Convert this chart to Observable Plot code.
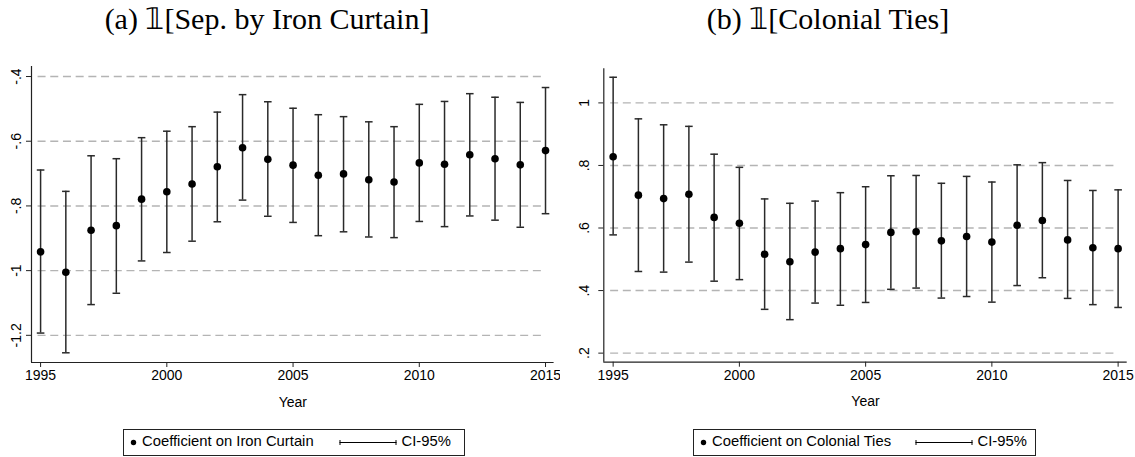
<!DOCTYPE html>
<html><head><meta charset="utf-8">
<script src="https://cdn.jsdelivr.net/npm/d3@7"></script>
<script src="https://cdn.jsdelivr.net/npm/@observablehq/plot@0.6"></script>
<style>
body{margin:0;background:#fff;}
#wrap{position:relative;width:1135px;height:457px;overflow:hidden;background:#fff;}
.title{position:absolute;top:1px;font-family:"Liberation Serif","Times New Roman",serif;font-size:30px;line-height:36px;color:#000;white-space:nowrap;transform:translateX(-50%);}
.panel{position:absolute;top:40px;}
.legend{position:absolute;top:429px;height:25px;border:1px solid #222;font-family:"Liberation Sans",Arial,sans-serif;font-size:14.8px;color:#000;background:#fff;}
.legend span{position:absolute;top:3px;white-space:nowrap;}
.legend svg{position:absolute;top:0;left:0;}
</style>
</head><body>
<div id="wrap">
  <div class="title" style="left:267px">(a) 𝟙[Sep. by Iron Curtain]</div>
  <div class="title" style="left:828px">(b) 𝟙[Colonial Ties]</div>
  <div class="panel" id="left" style="left:0px"></div>
  <div class="panel" id="right" style="left:560px"></div>
  <div class="legend" id="legL" style="left:123px;width:340px"></div>
  <div class="legend" id="legR" style="left:693px;width:341px"></div>
</div>
<script>
const years = [1995,1996,1997,1998,1999,2000,2001,2002,2003,2004,2005,2006,2007,2008,2009,2010,2011,2012,2013,2014,2015];
const xTicks = [1995,2000,2005,2010,2015];

const ironCoef = [-0.942,-1.005,-0.875,-0.861,-0.779,-0.756,-0.732,-0.679,-0.620,-0.656,-0.674,-0.705,-0.701,-0.719,-0.726,-0.667,-0.671,-0.642,-0.654,-0.673,-0.629];
const ironHi   = [-0.689,-0.755,-0.645,-0.654,-0.589,-0.569,-0.555,-0.510,-0.456,-0.478,-0.498,-0.518,-0.524,-0.540,-0.555,-0.486,-0.477,-0.453,-0.464,-0.480,-0.434];
const ironLo   = [-1.193,-1.254,-1.105,-1.070,-0.970,-0.944,-0.909,-0.849,-0.782,-0.832,-0.851,-0.892,-0.880,-0.896,-0.898,-0.848,-0.864,-0.831,-0.844,-0.866,-0.824];
const ironTicks = [-1.2,-1,-0.8,-0.6,-0.4];

const colCoef = [0.828,0.705,0.694,0.708,0.634,0.615,0.516,0.492,0.523,0.534,0.547,0.586,0.588,0.559,0.573,0.555,0.609,0.624,0.562,0.537,0.534];
const colHi   = [1.082,0.949,0.930,0.925,0.836,0.794,0.693,0.679,0.686,0.713,0.732,0.767,0.768,0.743,0.765,0.747,0.802,0.809,0.752,0.720,0.722];
const colLo   = [0.578,0.461,0.459,0.491,0.430,0.435,0.340,0.307,0.360,0.353,0.362,0.404,0.408,0.376,0.381,0.363,0.416,0.441,0.375,0.355,0.346];
const colTicks = [0.2,0.4,0.6,0.8,1];

const stataFmt = d => String(+d.toFixed(2)).replace(/^(-?)0\./, "$1.");
const capSymbol = {draw(ctx){ ctx.moveTo(-3.8,0); ctx.lineTo(3.8,0); }};

function panel(coef, lo, hi, ticks, opt){
  const data = years.map((y,i)=>({year:y, coef:coef[i], lo:lo[i], hi:hi[i]}));
  const [x0,x1] = opt.xDomain, [y0,y1] = opt.yDomain;
  return Plot.plot({
    width: opt.width, height: 380,
    marginLeft: opt.ml, marginRight: opt.mr, marginTop: opt.mt, marginBottom: opt.mb,
    style: {fontFamily: "'Liberation Sans', Arial, sans-serif", background: "transparent", color:"#000"},
    x: {domain: opt.xDomain},
    y: {domain: opt.yDomain},
    marks: [
      Plot.ruleY(ticks, {x1: years[0] - 0.1, x2: years[years.length-1] - 0.1, stroke: "#b4b4b4", strokeWidth: 1.4, strokeDasharray: "8,4.7"}),
      Plot.ruleX(data, {x: "year", y1: "lo", y2: "hi", stroke: "#2a2a2a", strokeWidth: 1.5}),
      Plot.dot(data, {x: "year", y: "lo", symbol: capSymbol, stroke: "#2a2a2a", strokeWidth: 1.5, fill: "none"}),
      Plot.dot(data, {x: "year", y: "hi", symbol: capSymbol, stroke: "#2a2a2a", strokeWidth: 1.5, fill: "none"}),
      Plot.dot(data, {x: "year", y: "coef", r: 3.8, fill: "#000", stroke: "none"}),
      Plot.ruleX([x0], {y1: y0, y2: y1, stroke: "#222", strokeWidth: 1.2}),
      Plot.ruleY([y0], {x1: x0, x2: x1, stroke: "#222", strokeWidth: 1.2}),
      Plot.axisX({ticks: xTicks, tickSize: 5, tickPadding: 3, tickFormat: d => String(d), fontSize: 14,
                  label: "Year", labelAnchor: "center", labelOffset: 44, labelArrow: "none", stroke:"#222"}),
      Plot.axisY({ticks: ticks, tickSize: 5, tickPadding: opt.pad, tickRotate: -90, tickFormat: stataFmt, fontSize: 14,
                  label: null, stroke:"#222"})
    ]
  });
}

document.getElementById("left").append(panel(ironCoef, ironLo, ironHi, ironTicks,
  {width: 560, ml: 31, mr: 6.4, mt: 26, mb: 58, pad: 6, xDomain: [1994.64, 2015.34], yDomain: [-1.284, -0.369]}));
document.getElementById("right").append(panel(colCoef, colLo, colHi, colTicks,
  {width: 575, ml: 43.3, mr: 8.3, mt: 28.3, mb: 58.3, pad: 10, xDomain: [1994.63, 2015.36], yDomain: [0.171, 1.109]}));

function legend(id, label, lineX){
  const el = document.getElementById(id);
  el.innerHTML = `<svg width="340" height="25">
      <circle cx="9.5" cy="12.5" r="2.7" fill="#000"/>
      <line x1="${lineX}" x2="${lineX+57}" y1="12.5" y2="12.5" stroke="#000" stroke-width="1"/>
      <line x1="${lineX+0.5}" x2="${lineX+0.5}" y1="10" y2="15" stroke="#000" stroke-width="1"/>
      <line x1="${lineX+56.5}" x2="${lineX+56.5}" y1="10" y2="15" stroke="#000" stroke-width="1"/>
    </svg>
    <span style="left:18px">${label}</span>
    <span style="left:${lineX+62}px">CI-95%</span>`;
}
legend("legL", "Coefficient on Iron Curtain", 215.5);
legend("legR", "Coefficient on Colonial Ties", 221.5);
</script>
</body></html>
